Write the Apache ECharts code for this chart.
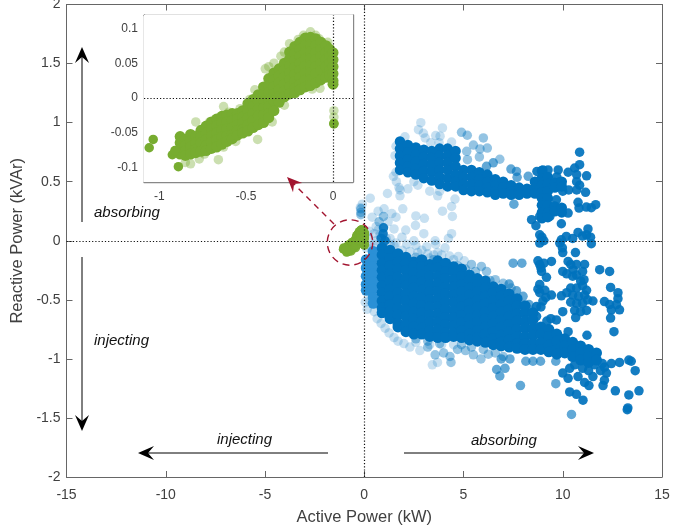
<!DOCTYPE html>
<html><head><meta charset="utf-8">
<style>html,body{margin:0;padding:0;background:#fff}#c{width:697px;height:531px}</style>
<script src="https://cdn.jsdelivr.net/npm/echarts@6/dist/echarts.min.js"></script>
</head><body><div id="c"></div>
<script>
// ---------- tick labels ----------
const xTicks = [-15,-10,-5,0,5,10,15];
const yTicks = [-2,-1.5,-1,-0.5,0,0.5,1,1.5,2];
const insetXTicks = [-1,-0.5,0];
const insetYTicks = [-0.1,-0.05,0,0.05,0.1];

// ---------- blue (load) points: [kW, kVAr] ----------
const bluePale = [[-.1,.31],[-.2,.28],[.3,.36],[1.17,.4],[.4,.2],[.7,.25],[1.0,.27],[1.39,.23],[1.6,.2],[1.94,.27],[2.09,.09],[1.5,.1],[1.2,.16],[.6,.12],[1.9,.03],[2.58,.13],[2.6,.21],[3.03,.19],[3.0,.06],[2.5,.0],[3.57,0],[4.24,.02],[4.4,.06],[1.47,.545],[1.62,.5],[1.8,.43],[1.8,.38],[1.3,.02],[.8,.05],[2.14,-.03],[3.15,-.05],[4.07,-.06],[1.6,-.02],[2.6,-.04],[3.6,-.03],[3.3,-.147],[4.74,-.133],[5.04,-.17],[.25,-.5],[.5,-.6],[.85,-.7],[1.25,-.78],[1.7,-.85],[2.3,-.9],[2.8,-.93],[3.43,-1.05],[3.69,-1.03],[2.85,1.0],[2.73,.94],[2.98,.91],[3.07,.87],[3.6,.89],[3.94,.955],[3.82,.885],[3.77,.83],[4.4,.836],[4.57,.353],[4.4,.29],[3.94,.25],[4.44,.206],[2.05,.88],[3.35,.83],[2.7,.47],[3.3,.42],[3.7,.38],[2.7,-.1],[3.2,-.11],[3.9,-.12],[4.3,-.13],[1.1,.02],[.5,.06],[.2,.02],[.05,-.52],[.15,-.58],[.65,-.66],[1.05,-.74],[1.5,-.82],[2.0,-.87],[2.6,-.86],[3.3,-.88],[3.9,-.88],[4.5,-.88],
[.6,0],[.5,-.03],[1.3,-.03],[1.5,-.04],[.3,-.05],[.7,.09],[.25,.08],[.1,-.06],[1.9,-.08],[2.3,-.09],[3.5,-.12],[3.7,-.1],[2.9,-.08],[4.5,-.16],[2.2,.44],[2.5,.5],[3.8,.42],[1.6,.58],[1.55,.72],[1.6,.8],[1.75,.45]];
const blueLight = [[.97,.206],[.75,.16],[-.17,.27],[-.17,.24],[-.17,.22],[4.9,.918],[5.19,.893],[6,.87],[5.5,.81],[5.83,.777],[6.2,.785],[5.16,.757],[5.2,.686],[5.8,.71],[6.83,.69],[3.57,-.966],[4.32,-.98],[4.37,-1.03],[3.2,-.9],[4.0,-.95],[4.7,-.92],[5.1,-.93],[5.5,-.966],[5.88,-1],[6.25,-.96],[5.9,-.217],[6.33,-.336],[6.16,-.26],[5.4,-.2],[5.6,-.26],[6.6,-.33],[7.0,-.36],[4.9,-.88],[5.4,-.9],[6.0,-.92],[6.6,-.95],[7.0,-.98],[1.9,-.15],[2.6,-.14],[3.5,-.16],[4.7,-.21],[5.1,-.24],[7.4,-.4],[8.3,-.58],[2.6,-.83],[3.2,-.85],[3.8,-.87]];
const blueMid = [[7.39,.607],[7.67,.587],[7.7,.537],[8.26,.545],[7.54,.31],[6.5,.66],[6.16,.63],[7.5,-.19],[7.94,-.19],[6.83,-1.145],[6.67,-1.09],[7.09,-1.08],[6.9,-1.0],[7.87,-1.226],[7.34,-1],[8.14,-1.02],[8.5,-1.02],[8.88,-1.02],[7.3,-.367],[7.67,-.424],[8.3,-.54],[8.0,-.47],[9.65,-1.21],[10.44,-1.47],[9.65,-1.02]];
const blueDark = [[10.85,.75],[10.85,.644],[10.6,.616],[10.7,.56],[11.2,.55],[9.77,.6],[10.27,.58],[8.7,.587],[9,.6],[9.26,.6],[9.85,.5],[9.7,.54],[10.7,.5],[10.7,.43],[10.85,.47],[11.15,.41],[10,.42],[10.3,.43],[9.68,.347],[10.77,.325],[10.82,.277],[11.19,.285],[11.44,.28],[11.66,.305],[9.77,.27],[10.27,.234],[9.93,.144],[8.43,.178],[8.65,.127],[9.35,.206],[8.84,.206],
[8.84,.05],[8.95,.03],[8.84,-.02],[9.05,.0],[11.27,.1],[10.77,.07],[10.18,.037],[9.93,.008],[9.85,-.02],[9.98,-.06],[10,-.1],[10.64,-.1],[11.44,-.025],[11.4,.03],[11,.04],[10.5,.02],[11.2,.05],
[8.84,-.2],[9.43,-.175],[8.93,-.26],[9.18,-.31],[8.75,-.17],[8.9,-.23],[9.05,-.19],[10,-.26],[10.27,-.175],[10.52,-.245],[10.69,-.29],[11.1,-.2],[11,-.26],[10.4,-.2],[10.7,-.2],[10.5,-.3],[10.2,-.28],[11.86,-.245],[12.36,-.26],[11.07,-.33],[12.41,-.395],[12.78,-.44],[12.78,-.49],[12.1,-.515],[12.36,-.54],[12.45,-.585],[12.86,-.585],[12.7,-.54],[12.41,-.655],[12.58,-.77],[11.52,-.51],
[8.84,-.37],[8.75,-.41],[8.84,-.44],[9.1,-.42],[9,-.51],[9.15,-.48],[8.9,-.56],[9.93,-.466],[10,-.6],[10.65,-.65],[9.43,-.46],[9.68,-.67],[10.27,-.77],[11.22,-.8],[8.68,-.556],[8.68,-.64],[9.4,-.66],[9.2,-.68],
[10.4,-.4],[10.7,-.4],[11.0,-.38],[11.2,-.42],[10.5,-.46],[10.8,-.47],[11.1,-.46],[10.4,-.52],[10.7,-.53],[11.0,-.53],[11.25,-.5],[10.6,-.59],[10.9,-.6],[11.2,-.59],[10.2,-.44],[10.9,-.34],
[12.45,-1.04],[12.86,-1.03],[13.33,-1.01],[13.45,-1.02],[13.65,-1.1],[12.65,-1.27],[13.33,-1.305],[13.84,-1.27],[13.28,-1.415],[13.25,-1.43],[11.02,-1.35],[10.69,-1.3],[10.35,-1.28],[11.1,-1.2],[11.32,-1.226],[12.03,-1.226],[12.1,-1.18],[11.52,-1.15],[10.77,-1.15],[10.27,-1.165],[10,-1.12],[10.35,-1.08],[12.2,-1.12],[11.9,-1.1],[11.6,-1.05],[12.0,-1.04],[11.0,-1.08],[10.6,-1.05],[11.3,-1.1],[12.1,-1.07],
[.97,.11],[.95,.06],[1.05,.0],[.85,.02]];

// dense blue clouds, one row per column: [kW, kVAr, kVAr, ...]
const blueLoadEdge = [
[.1,-.16,-.23,-.3,-.37,-.42],
[.45,-.09,-.15,-.22,-.28,-.35,-.41,-.48,-.53]];
const blueLoadCore = [
[.9,-.06,-.12,-.19,-.25,-.31,-.38,-.44,-.51,-.57,-.61],
[1.3,-.08,-.15,-.21,-.28,-.34,-.41,-.47,-.54,-.6,-.66],
[1.7,-.11,-.18,-.24,-.31,-.37,-.44,-.5,-.57,-.63,-.7,-.73],
[2.1,-.14,-.19,-.25,-.32,-.38,-.45,-.51,-.58,-.64,-.71,-.77],
[2.5,-.18,-.21,-.27,-.34,-.4,-.47,-.53,-.6,-.66,-.73,-.79],
[2.9,-.16,-.22,-.29,-.35,-.42,-.48,-.55,-.61,-.68,-.74,-.79],
[3.3,-.2,-.24,-.3,-.37,-.43,-.5,-.56,-.63,-.69,-.76,-.81],
[3.7,-.17,-.23,-.3,-.36,-.43,-.49,-.56,-.62,-.69,-.75,-.82],
[4.1,-.19,-.26,-.32,-.39,-.45,-.52,-.58,-.65,-.71,-.78,-.82],
[4.5,-.22,-.26,-.33,-.39,-.46,-.52,-.59,-.65,-.72,-.78,-.81],
[4.9,-.24,-.3,-.37,-.43,-.5,-.56,-.63,-.69,-.76,-.82],
[5.3,-.29,-.33,-.4,-.46,-.53,-.59,-.66,-.72,-.79,-.84],
[5.7,-.32,-.37,-.43,-.5,-.56,-.63,-.69,-.76,-.82,-.85],
[6.1,-.34,-.4,-.47,-.53,-.6,-.66,-.73,-.79,-.86],
[6.5,-.39,-.44,-.51,-.57,-.64,-.7,-.77,-.83,-.88],
[6.9,-.41,-.47,-.54,-.6,-.67,-.73,-.8,-.86,-.89],
[7.3,-.45,-.51,-.58,-.64,-.71,-.77,-.84,-.9],
[7.7,-.49,-.55,-.62,-.68,-.75,-.81,-.87,-.91],
[8.1,-.55,-.61,-.68,-.74,-.81,-.87,-.92],
[8.5,-.61,-.67,-.74,-.8,-.87,-.92],
[8.9,-.73,-.79,-.86,-.92],
[9.3,-.75,-.81,-.88,-.94],
[9.7,-.79,-.85,-.92,-.96],
[10.1,-.83,-.89,-.95],
[10.5,-.86,-.92,-.98],
[10.9,-.89,-.95,-1.01],
[11.3,-.92,-.98,-1.03],
[11.7,-.95,-1.01]];
const bluePvCore = [
[1.8,.84,.78,.72,.66,.6],
[2.2,.81,.75,.69,.63,.58],
[2.6,.79,.73,.67,.61,.56],
[3.0,.77,.71,.65,.59,.53],
[3.4,.76,.7,.64,.58,.51],
[3.8,.78,.72,.66,.6,.54,.48],
[4.2,.78,.72,.66,.6,.53,.46],
[4.6,.76,.7,.63,.56,.5,.46],
[5.0,.6,.54,.48,.43],
[5.4,.6,.54,.48,.42],
[5.8,.58,.52,.47,.42],
[6.2,.56,.5,.45,.41],
[6.6,.52,.47,.42,.39],
[7.0,.5,.45,.4],
[7.4,.47,.42,.39],
[7.8,.45,.41,.39],
[8.2,.44,.4],
[8.6,.5,.45,.4],
[8.95,.59,.53,.47,.41,.36,.3,.24,.19],
[9.25,.54,.48,.42,.36,.3,.24,.2],
[9.6,.49,.45,.29,.25],
[9.95,.5,.46,.28,.24]];

// ---------- green (household) points: [kW, kVAr] ----------
const greenPale = [[-.37,.045],[-.39,.042],[-.79,-.034],[-.66,-.088],[-.63,-.012],[-.434,-.059],[-.075,.014],[.005,-.018],[.005,-.027],[-.85,-.092],[-.82,-.094],[-.77,-.087],[-.13,.095],[-.17,.09],[-.25,.078],[-.08,.085],[-.3,.06],[-.45,.012],[-.48,-.002],[-.535,-.015],[-.6,-.02],[-.56,-.062],[-.63,-.07],[-.71,-.034],[-.74,-.08],[-.35,-.034],[-.28,-.01],[-.05,.073],[-.22,.006],[-.12,.013],[-.2,.084],[-.28,.066],[-.34,.05],[-.1,.09],[-.03,.08]];
const greenSolid = [[-1.058,-.071],[-1.035,-.059],[-.89,-.098],[-.925,-.081],[-.91,-.075],[.005,-.036],[.005,-.037]];
// dense green cloud, one row per column: [kW, kVAr, kVAr, ...]
const greenCore = [
[-.88,-.055,-.064,-.073,-.08],
[-.85,-.059,-.068,-.076,-.082],
[-.82,-.052,-.061,-.07,-.08],
[-.79,-.055,-.064,-.073,-.078],
[-.76,-.046,-.055,-.064,-.076],
[-.73,-.04,-.05,-.059,-.068,-.075],
[-.70,-.034,-.044,-.054,-.063,-.072],
[-.67,-.03,-.04,-.05,-.06,-.07],
[-.64,-.026,-.036,-.046,-.056,-.066],
[-.61,-.024,-.034,-.044,-.054,-.062],
[-.58,-.022,-.032,-.042,-.052,-.058],
[-.55,-.022,-.03,-.038,-.046,-.053],
[-.52,-.018,-.027,-.036,-.045,-.05],
[-.49,-.008,-.018,-.028,-.038,-.047],
[-.46,-.002,-.012,-.022,-.032,-.042],
[-.43,.005,-.005,-.015,-.025,-.038],
[-.40,.016,.006,-.004,-.014,-.024,-.035],
[-.37,.028,.018,.008,-.002,-.012,-.022,-.028],
[-.34,.036,.026,.016,.006,-.004,-.018],
[-.31,.042,.032,.022,.012,.002,-.006],
[-.28,.05,.04,.03,.02,.01,.002],
[-.25,.066,.056,.046,.036,.026,.016,.006],
[-.22,.074,.064,.054,.044,.034,.024,.014,.008],
[-.19,.08,.07,.06,.05,.04,.03,.02,.012],
[-.16,.086,.076,.066,.056,.046,.036,.026,.016],
[-.13,.087,.077,.067,.057,.047,.037,.027,.018],
[-.10,.085,.075,.065,.055,.045,.035,.022],
[-.07,.08,.07,.06,.05,.04,.026],
[-.04,.075,.065,.055,.045,.03],
[-.02,.07,.06,.05,.04,.033],
[0,.065,.055,.045,.035,.025,.02]];

// ---------- tone of each cloud ----------
const BLUE = '#0072BD', GREEN = '#77AC30', DARKRED = '#A2142F', AXIS = '#666666', TEXT = '#404040';
const expand = cols => cols.flatMap(c => c.slice(1).map(y => [c[0], y]));

function dots(name, data, color, opacity, size, x, y) {
  return { name, type:'scatter', data, xAxisIndex:x, yAxisIndex:y, symbolSize:size, silent:true,
    large:false, progressive:0, animation:false,
    itemStyle:{color, opacity, borderWidth:0}, emphasis:{disabled:true} };
}
function dottedZero(xIdx, yIdx) {
  return { type:'scatter', data:[], xAxisIndex:xIdx, yAxisIndex:yIdx, silent:true, z:6,
    markLine:{ silent:true, symbol:'none', animation:false, label:{show:false},
      lineStyle:{color:'#111', type:[1.2,2], width:1.2},
      data:[{xAxis:0},{yAxis:0}] } };
}
const axisCommon = {
  axisLine:{show:true,onZero:false,lineStyle:{color:AXIS,width:1}},
  axisTick:{show:true,inside:true,length:6,lineStyle:{color:AXIS,width:1}},
  splitLine:{show:false}
};
function head(tx,ty,dx,dy,len,hw,notch,color){
  const px=-dy,py=dx;
  return {type:'polygon',z:20,silent:true,style:{fill:color},shape:{points:[
    [tx,ty],
    [tx-dx*len+px*hw,ty-dy*len+py*hw],
    [tx-dx*notch,ty-dy*notch],
    [tx-dx*len-px*hw,ty-dy*len-py*hw]]}};
}
function arrow(x1,y1,x2,y2){
  const L=Math.hypot(x2-x1,y2-y1),dx=(x2-x1)/L,dy=(y2-y1)/L;
  return [{type:'line',z:20,silent:true,shape:{x1,y1,x2:x2-dx*6,y2:y2-dy*6},style:{stroke:'#000',lineWidth:1}},
          head(x2,y2,dx,dy,16,7,10,'#000')];
}
function note(t,x,y){
  return {type:'text',z:20,silent:true,x,y,style:{text:t,font:'italic 15px "Liberation Sans"',fill:'#111',verticalAlign:'middle',align:'left'}};
}

const chart = echarts.init(document.getElementById('c'),null,{renderer:'canvas'});
chart.setOption({
  animation:false,
  backgroundColor:'#fff',
  textStyle:{fontFamily:'"Liberation Sans"'},
  grid:[
    {left:66.5,top:4.5,width:595.5,height:472.5,outerBoundsMode:'none',show:false},
    {left:144,top:15,width:209,height:167,outerBoundsMode:'none',show:true,backgroundColor:'#fff',borderWidth:0,z:1}
  ],
  xAxis:[
    {...axisCommon,gridIndex:0,type:'value',min:-15,max:15,interval:5,position:'bottom',
      axisLabel:{color:TEXT,fontSize:14,margin:11,formatter:v=>xTicks.includes(v)?String(v):''},
      name:'Active Power (kW)',nameLocation:'middle',nameGap:32,nameTextStyle:{color:TEXT,fontSize:16.5}},
    {...axisCommon,gridIndex:0,type:'value',min:-15,max:15,interval:5,position:'top',axisLabel:{show:false}},
    {...axisCommon,gridIndex:1,type:'value',min:-1.088,max:0.115,position:'bottom',
      axisLine:{show:true,onZero:false,lineStyle:{color:'#888',width:1.4}},
      axisTick:{show:true,inside:true,length:4,customValues:insetXTicks,lineStyle:{color:'#888'}},
      axisLabel:{color:TEXT,fontSize:12,margin:9,customValues:insetXTicks,formatter:v=>String(v)}},
    {...axisCommon,gridIndex:1,type:'value',min:-1.088,max:0.115,position:'top',axisLabel:{show:false},
      axisLine:{show:true,onZero:false,lineStyle:{color:'#888',width:1.4}},
      axisTick:{show:true,inside:true,length:4,customValues:insetXTicks,lineStyle:{color:'#888'}}}
  ],
  yAxis:[
    {...axisCommon,gridIndex:0,type:'value',min:-2,max:2,interval:.5,position:'left',
      axisLabel:{color:TEXT,fontSize:14,margin:6,formatter:v=>yTicks.includes(v)?String(v):''},
      name:'Reactive Power (kVAr)',nameLocation:'middle',nameGap:34,nameRotate:90,nameTextStyle:{color:TEXT,fontSize:16.5}},
    {...axisCommon,gridIndex:0,type:'value',min:-2,max:2,interval:.5,position:'right',axisLabel:{show:false}},
    {...axisCommon,gridIndex:1,type:'value',min:-0.12,max:0.119,position:'left',
      axisLine:{show:true,onZero:false,lineStyle:{color:'#888',width:1.4}},
      axisTick:{show:true,inside:true,length:4,customValues:insetYTicks,lineStyle:{color:'#888'}},
      axisLabel:{color:TEXT,fontSize:12,margin:6,customValues:insetYTicks,formatter:v=>String(v)}},
    {...axisCommon,gridIndex:1,type:'value',min:-0.12,max:0.119,position:'right',axisLabel:{show:false},
      axisLine:{show:true,onZero:false,lineStyle:{color:'#888',width:1.4}},
      axisTick:{show:true,inside:true,length:4,customValues:insetYTicks,lineStyle:{color:'#888'}}}
  ],
  series:[
    dots('pale',bluePale,BLUE,.22,9.5,0,0),
    dots('light',blueLight,BLUE,.42,9.5,0,0),
    dots('mid',blueMid,BLUE,.62,9.5,0,0),
    dots('dark',blueDark,BLUE,.92,9.5,0,0),
    dots('edge',expand(blueLoadEdge),'#2a90d6',1,11,0,0),
    dots('load',expand(blueLoadCore),BLUE,1,11,0,0),
    dots('pv',expand(bluePvCore),BLUE,1,10.5,0,0),
    dots('greenMainPale',greenPale,GREEN,.9,9,0,0),
    dots('greenMain',expand(greenCore),GREEN,1,9.5,0,0),
    dots('greenMainSolid',greenSolid,GREEN,1,9,0,0),
    dots('greenInsetPale',greenPale,GREEN,.38,9.5,2,2),
    dots('greenInset',expand(greenCore),GREEN,1,11,2,2),
    dots('greenInsetSolid',greenSolid,GREEN,1,9.5,2,2),
    dottedZero(0,0),
    dottedZero(2,2)
  ],
  graphic:[
    ...arrow(82,222,82,47),
    ...arrow(82,257,82,431),
    ...arrow(328,453,138,453),
    ...arrow(404,453,594,453),
    note('absorbing',94,213),
    note('injecting',94,341),
    note('injecting',217,440),
    note('absorbing',471,441),
    {type:'circle',z:21,silent:true,shape:{cx:350,cy:242.5,r:22.7},style:{fill:'none',stroke:DARKRED,lineWidth:1.4,lineDash:[7,5]}},
    {type:'line',z:21,silent:true,shape:{x1:334,y1:224,x2:294,y2:184},style:{stroke:DARKRED,lineWidth:1.4,lineDash:[6,5]}},
    head(287,177,-.7071,-.7071,15,6.5,10,DARKRED)
  ]
});
</script></body></html>
